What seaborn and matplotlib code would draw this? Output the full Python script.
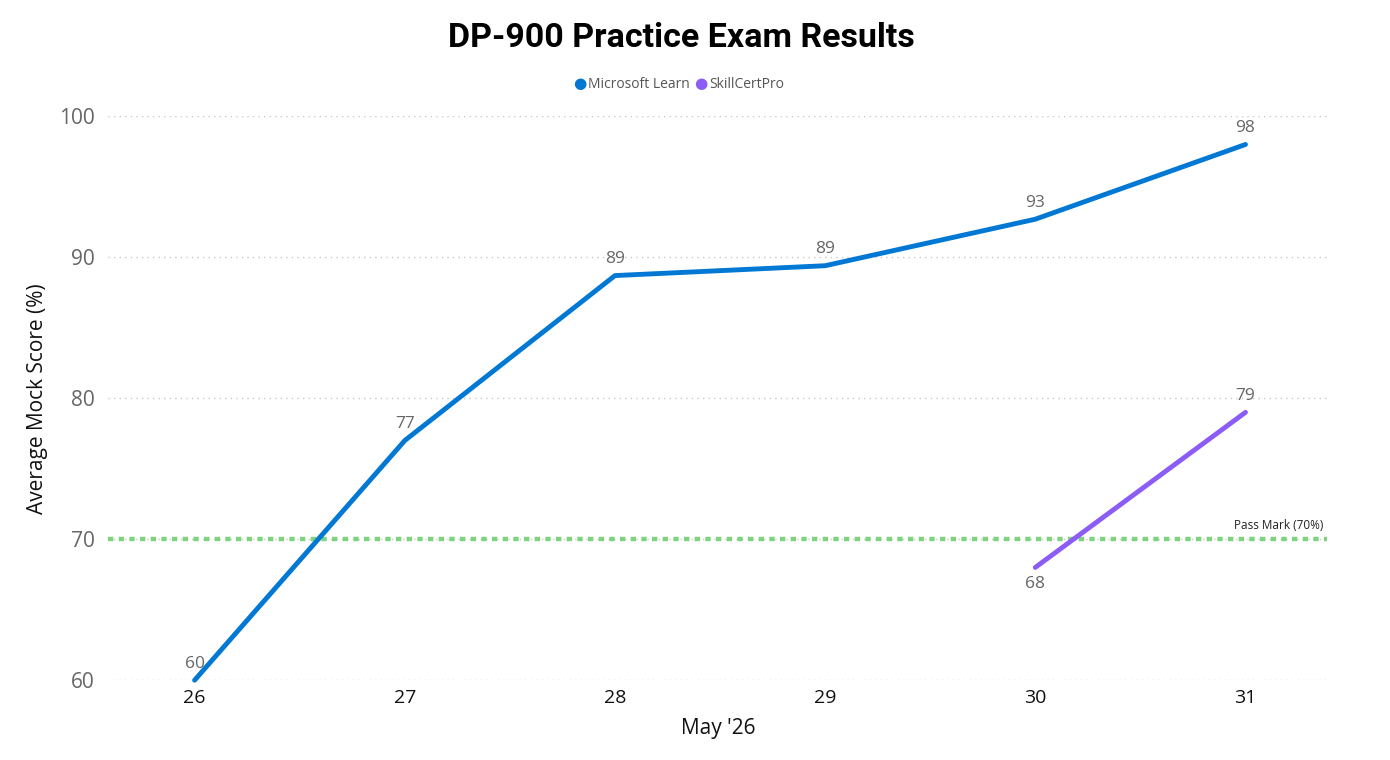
import pandas as pd
import seaborn as sns
import matplotlib.pyplot as plt

days = [26, 27, 28, 29, 30, 31]
ms_learn = [60.0, 77.0, 88.7, 89.4, 92.7, 98.0]
skill_days = [30, 31]
skill_cert = [68.0, 79.0]
pass_mark = 70
yticks = [60, 70, 80, 90, 100]

df = pd.concat([
    pd.DataFrame({"day": days, "score": ms_learn, "source": "Microsoft Learn"}),
    pd.DataFrame({"day": skill_days, "score": skill_cert, "source": "SkillCertPro"}),
])
colors = {"Microsoft Learn": "#0078D4", "SkillCertPro": "#8B5CF6"}

sns.set_style("white")
plt.rcParams["font.family"] = ["Open Sans", "DejaVu Sans"]

fig = plt.figure(figsize=(13.9, 7.6), dpi=100)
ax = fig.add_axes([0.078, 0.105, 0.877, 0.742])

sns.lineplot(data=df, x="day", y="score", hue="source", palette=colors,
             linewidth=3.5, legend=False, ax=ax, solid_capstyle="round")

ax.axhline(pass_mark, color="#7ED47E", linestyle=(0, (1.2, 1.2)), linewidth=3.2, zorder=1)
ax.text(31.37, pass_mark + 0.5, "Pass Mark (70%)", ha="right", va="bottom",
        fontsize=8.5, color="#222222")

for x, y in zip(days, ms_learn):
    ax.annotate(f"{y:.0f}", (x, y), xytext=(0, 6), textcoords="offset points",
                ha="center", va="bottom", fontsize=12.5, color="#666666")
ax.annotate(f"{skill_cert[0]:.0f}", (skill_days[0], skill_cert[0]), xytext=(0, -6),
            textcoords="offset points", ha="center", va="top", fontsize=12.5, color="#666666")
ax.annotate(f"{skill_cert[1]:.0f}", (skill_days[1], skill_cert[1]), xytext=(0, 6),
            textcoords="offset points", ha="center", va="bottom", fontsize=12.5, color="#666666")

ax.set_xlim(25.59, 31.39)
ax.set_ylim(60, 100)
ax.set_xticks(days)
ax.set_yticks(yticks)
ax.tick_params(axis="x", labelsize=14, colors="#111111", length=0, pad=6)
ax.tick_params(axis="y", labelsize=15, labelcolor="#666666", length=0, pad=10)
ax.yaxis.grid(True, color="#C8C8C8", linestyle=(0, (1, 3)), linewidth=1)
for s in ax.spines.values():
    s.set_visible(False)
for line in ax.get_lines():
    line.set_clip_on(False)

ax.set_xlabel("May '26", fontsize=15, color="#111111", labelpad=8)
ax.set_ylabel("Average Mock Score (%)", fontsize=15, color="#111111", labelpad=8)

fig.text(0.49, 0.95, "DP-900 Practice Exam Results", ha="center", va="center",
         fontsize=24.5, fontweight="bold", color="black", family=["Roboto", "DejaVu Sans"])

# legend
ly = 1 - 84 / 760
fig.text(580 / 1390, ly, "\u25CF", color=colors["Microsoft Learn"], fontsize=11,
         ha="center", va="center", family=["DejaVu Sans"])
fig.text(588 / 1390, ly, "Microsoft Learn", color="#555555", fontsize=10, ha="left", va="center")
fig.text(701 / 1390, ly, "\u25CF", color=colors["SkillCertPro"], fontsize=11,
         ha="center", va="center", family=["DejaVu Sans"])
fig.text(709 / 1390, ly, "SkillCertPro", color="#555555", fontsize=10, ha="left", va="center")

fig.savefig("out.png", dpi=100)
